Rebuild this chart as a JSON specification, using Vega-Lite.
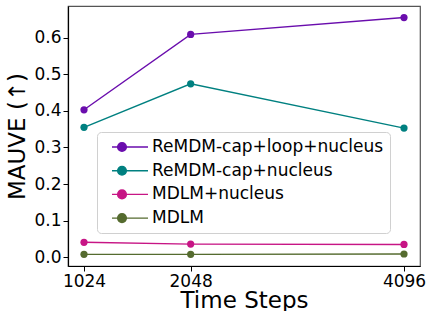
{
  "$schema": "https://vega.github.io/schema/vega-lite/v6.json",
  "width": 352,
  "height": 260,
  "autosize": {"type": "none"},
  "padding": {"left": 68, "top": 6, "right": 8, "bottom": 45},
  "background": "white",
  "config": {
    "view": {"stroke": "#555555", "strokeWidth": 1.2},
    "font": "DejaVu Sans",
    "axis": {
      "labelFont": "DejaVu Sans",
      "labelFontSize": 17,
      "labelColor": "black",
      "titleFont": "DejaVu Sans",
      "titleFontSize": 23,
      "titleFontWeight": "normal",
      "titleColor": "black",
      "domainColor": "black",
      "domainWidth": 1.2,
      "tickColor": "black",
      "tickSize": 5,
      "tickWidth": 1,
      "labelPadding": 2,
      "grid": false
    }
  },
  "data": {
    "values": [
      {"steps": 1024, "mauve": 0.403, "method": "ReMDM-cap+loop+nucleus"},
      {"steps": 2048, "mauve": 0.609, "method": "ReMDM-cap+loop+nucleus"},
      {"steps": 4096, "mauve": 0.655, "method": "ReMDM-cap+loop+nucleus"},
      {"steps": 1024, "mauve": 0.355, "method": "ReMDM-cap+nucleus"},
      {"steps": 2048, "mauve": 0.474, "method": "ReMDM-cap+nucleus"},
      {"steps": 4096, "mauve": 0.353, "method": "ReMDM-cap+nucleus"},
      {"steps": 1024, "mauve": 0.041, "method": "MDLM+nucleus"},
      {"steps": 2048, "mauve": 0.036, "method": "MDLM+nucleus"},
      {"steps": 4096, "mauve": 0.035, "method": "MDLM+nucleus"},
      {"steps": 1024, "mauve": 0.008, "method": "MDLM"},
      {"steps": 2048, "mauve": 0.008, "method": "MDLM"},
      {"steps": 4096, "mauve": 0.009, "method": "MDLM"}
    ]
  },
  "encoding": {
    "x": {
      "field": "steps",
      "type": "quantitative",
      "scale": {"domain": [870.4, 4249.6], "nice": false, "zero": false},
      "axis": {"values": [1024, 2048, 4096], "title": "Time Steps", "titlePadding": 0, "format": "d"}
    },
    "y": {
      "field": "mauve",
      "type": "quantitative",
      "scale": {"domain": [-0.0238, 0.6866], "nice": false, "zero": false},
      "axis": {"values": [0, 0.1, 0.2, 0.3, 0.4, 0.5, 0.6], "format": ".1f", "title": "MAUVE (↑)", "titlePadding": 4}
    },
    "color": {
      "field": "method",
      "type": "nominal",
      "scale": {
        "domain": ["ReMDM-cap+loop+nucleus", "ReMDM-cap+nucleus", "MDLM+nucleus", "MDLM"],
        "range": ["#6a0dad", "#008080", "#c71585", "#556b2f"]
      }
    }
  },
  "layer": [
    {
      "mark": {"type": "line", "strokeWidth": 1.4},
      "encoding": {
        "color": {
          "field": "method",
          "type": "nominal",
          "legend": {
            "title": null,
            "orient": "none",
            "legendX": 29,
            "legendY": 126,
            "padding": 6,
            "fillColor": "rgba(255,255,255,0.85)",
            "strokeColor": "#d0d0d0",
            "cornerRadius": 4,
            "labelFont": "DejaVu Sans",
            "labelFontSize": 17,
            "labelColor": "black",
            "labelLimit": 0,
            "labelOffset": 31,
            "rowPadding": 6.7,
            "symbolSize": 256,
            "symbolStrokeWidth": 1.4,
            "symbolType": "M0,0L4.5,0M1.794,0A0.544,0.544,0,1,1,0.706,0A0.544,0.544,0,1,1,1.794,0Z",
            "encode": {
              "symbols": {
                "update": {
                  "fill": {"scale": "color", "field": "value"},
                  "stroke": {"scale": "color", "field": "value"},
                  "opacity": {"value": 1},
                  "fillOpacity": {"value": 1}
                }
              }
            }
          }
        }
      }
    },
    {
      "mark": {"type": "point", "filled": true, "size": 52, "opacity": 1},
      "encoding": {
        "color": {"field": "method", "type": "nominal", "legend": null}
      }
    }
  ]
}
